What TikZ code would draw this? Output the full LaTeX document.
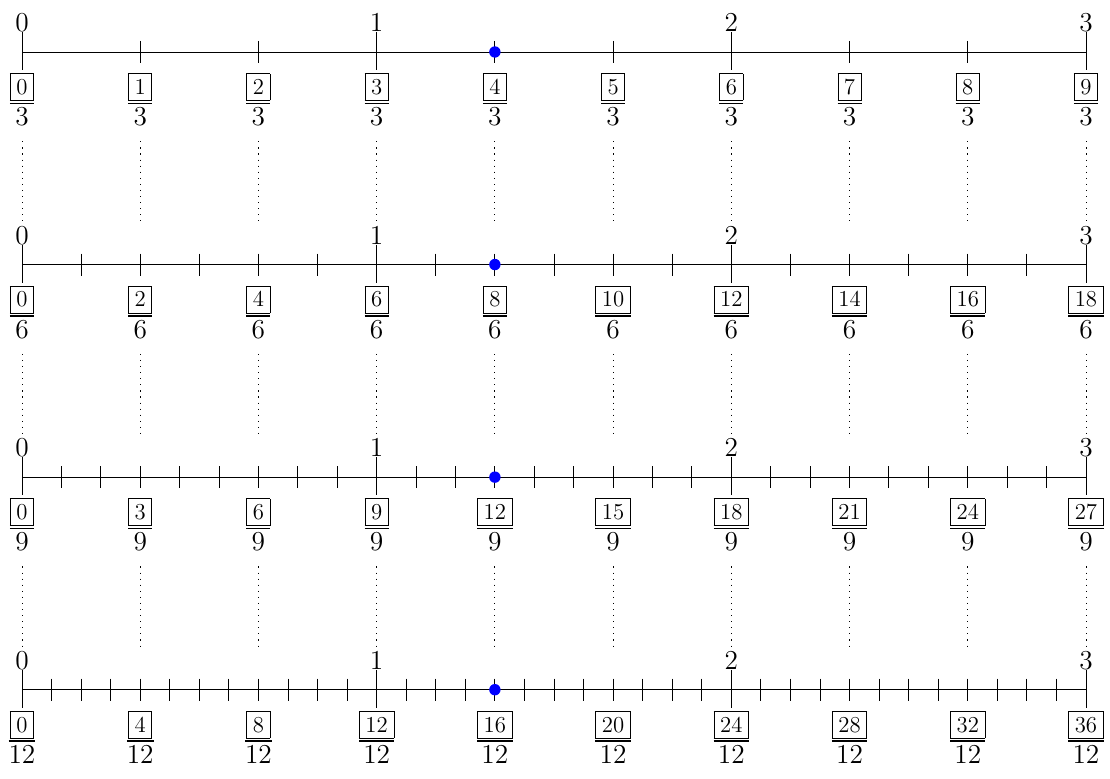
\documentclass[tikz,border=0pt]{standalone}
\usetikzlibrary{positioning, calc}
\usepackage{amsmath}

\begin{document}
\begin{tikzpicture}[
        x=186.7pt, y=111.9pt,
        numline/.style={line width=0.5pt},
        tickmark/.style={line width=0.5pt},
        guide/.style={line width=0.5pt, dash pattern=on 0.6pt off 2.6pt},
        intlabel/.style={anchor=south, inner sep=0pt, font=\Large},
        fraclabel/.style={anchor=north, inner sep=0pt, font=\Large},
        marker/.style={circle, fill=blue, inner sep=0pt, minimum size=6pt},
    ]
    % Picture frame
    \useasboundingbox (-0.062,0.2445) rectangle (3.0677,-3.4185);

    \foreach \d [count=\r] in {3,6,9,12} {
        \pgfmathtruncatemacro{\yy}{1-\r}
        \pgfmathtruncatemacro{\nt}{3*\d}

        % Number line
        \draw[numline] (0,\yy) -- (3,\yy);

        % Short ticks
        \foreach \t in {1,...,\nt} {
            \pgfmathtruncatemacro{\rest}{mod(\t,\d)}
            \ifnum\rest>0
                \draw[tickmark] (\t/\d,\yy) ++(0,5.8pt) -- ++(0,-11.6pt);
            \fi
        }

        % Fractions below the line
        \foreach \k in {0,...,9} {
            \pgfmathtruncatemacro{\m}{\k*\d/3}
            \node[fraclabel] (frac-\r-\k) at ([yshift=-11pt]\k/3,\yy)
                {$\genfrac{}{}{0.9pt}{1}{\fbox{\large$\m$}}{\mbox{$\d$\rule{0pt}{10.4pt}}}$};
        }

        % Whole numbers and long ticks
        \foreach \n in {0,...,3} {
            \pgfmathtruncatemacro{\kk}{3*\n}
            \node[intlabel] (lab-\r-\n) at ([yshift=10.5pt]\n,\yy) {$\n$};
            \draw[tickmark, shorten >=1.5pt] (lab-\r-\n.south) -- (frac-\r-\kk.north);
        }

        % Point at 4/3
        \node[marker] (pt-\r) at (4/3,\yy) {};

        % Guide lines down to the next line
        \ifnum\r<4
            \foreach \k in {0,...,9} {
                \coordinate (end-\r-\k) at ([yshift=-89.5pt]\k/3,\yy);
                \draw[guide, shorten <=8pt] (frac-\r-\k.south) -- (end-\r-\k);
            }
        \fi
    }
\end{tikzpicture}
\end{document}
